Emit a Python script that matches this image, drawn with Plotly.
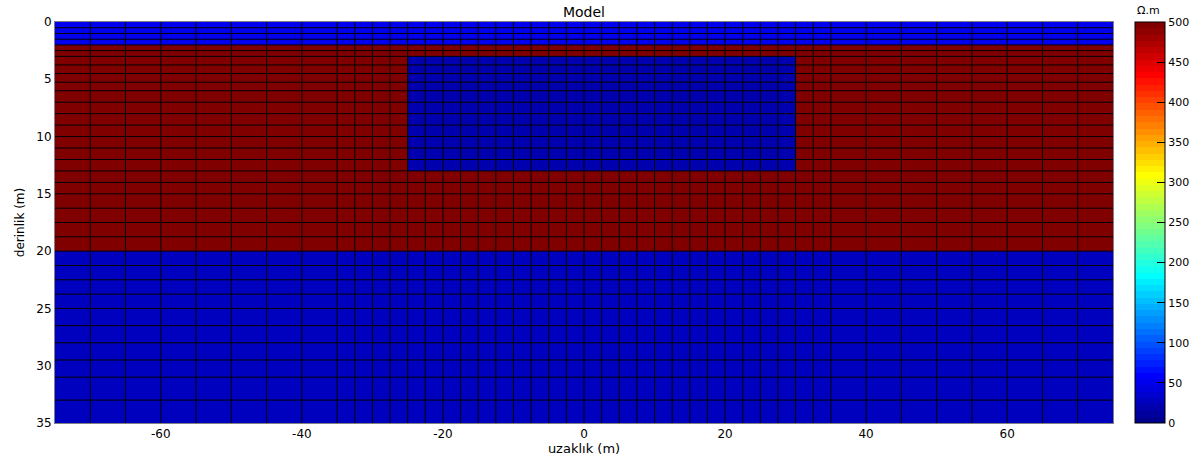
import numpy as np
import plotly.graph_objects as go

# Mesh cell edges (m)
x_edges = [-75, -70, -65, -60, -55, -50, -45, -40, -35,
           -32.5, -30, -27.5, -25, -22.5, -20, -17.5, -15, -12.5, -10, -7.5, -5, -2.5,
           0, 2.5, 5, 7.5, 10, 12.5, 15, 17.5, 20, 22.5, 25, 27.5, 30, 32.5,
           35, 40, 45, 50, 55, 60, 65, 70, 75]
y_edges = [0, 0.5, 1, 1.5, 2, 2.5, 3, 3.75, 4.5, 5.25, 6, 7, 8, 9, 10, 11, 12, 13,
           14, 15, 16.25, 17.5, 18.75, 20, 21.25, 22.5, 23.75, 25, 26.5, 28, 29.5, 31, 33, 35]

# Layered model (resistivity in ohm.m)
layer_bottoms = [2, 20, 35]
layer_rho = [50, 500, 28]
block_x = [-25, 30]
block_depth = [3, 13]
block_rho = 20

# Ticks
cb_ticks = [0, 50, 100, 150, 200, 250, 300, 350, 400, 450, 500]
x_ticks = [-60, -40, -20, 0, 20, 40, 60]
x_ticklabels = ["-60", "-40", "-20", "0", "20", "40", "60"]
y_ticks = [0, 5, 10, 15, 20, 25, 30, 35]

xc = [(a + b) / 2 for a, b in zip(x_edges[:-1], x_edges[1:])]
yc = [(a + b) / 2 for a, b in zip(y_edges[:-1], y_edges[1:])]
z = []
for yv in yc:
    li = next(i for i, b in enumerate(layer_bottoms) if yv < b)
    row = []
    for xv in xc:
        if block_x[0] < xv < block_x[1] and block_depth[0] < yv < block_depth[1]:
            row.append(block_rho)
        else:
            row.append(layer_rho[li])
    z.append(row)


def matlab_jet(m=64):
    n = int(np.ceil(m / 4))
    u = np.concatenate([np.arange(1, n + 1) / n, np.ones(n - 1), np.arange(n, 0, -1) / n])
    g = int(np.ceil(n / 2)) - (1 if m % 4 == 1 else 0) + np.arange(1, len(u) + 1)
    r = g + n
    b = g - n
    g = g[g <= m]
    r = r[r <= m]
    b = b[b >= 1]
    J = np.zeros((m, 3))
    J[r - 1, 0] = u[:len(r)]
    J[g - 1, 1] = u[:len(g)]
    J[b - 1, 2] = u[len(u) - len(b):]
    return J


J = matlab_jet(64)
colorscale = []
for i, c in enumerate(J):
    col = "rgb(%d,%d,%d)" % tuple(int(round(v * 255)) for v in c)
    colorscale.append([i / 64, col])
    colorscale.append([(i + 1) / 64, col])

font = "DejaVu Sans, sans-serif"

fig = go.Figure(go.Heatmap(
    x=x_edges, y=y_edges, z=z,
    zmin=0, zmax=500, colorscale=colorscale, hoverinfo="skip",
    colorbar=dict(
        tickvals=cb_ticks, ticks="inside", ticklen=8, tickcolor="#000",
        outlinecolor="#000", outlinewidth=1,
        thickness=30, thicknessmode="pixels",
        len=1, lenmode="fraction", y=0.5, yanchor="middle", ypad=0,
        x=1135 / 1204, xref="container", xanchor="left", xpad=0,
        tickfont=dict(size=11, family=font, color="#000"),
    ),
))

# mesh lines drawn at the cell edges
gx, gy = [], []
for xe in x_edges[1:-1]:
    gx += [xe, xe, None]
    gy += [y_edges[0], y_edges[-1], None]
for ye in y_edges[1:-1]:
    gx += [x_edges[0], x_edges[-1], None]
    gy += [ye, ye, None]
fig.add_trace(go.Scatter(x=gx, y=gy, mode="lines", line=dict(color="#000", width=1),
                         hoverinfo="skip", showlegend=False))

fig.add_annotation(text="Ω.m", xref="paper", yref="paper", x=(1135 - 55) / 1058, y=1,
                   xanchor="left", yanchor="bottom", yshift=3, showarrow=False,
                   font=dict(size=11, family=font, color="#000"))

fig.update_layout(
    width=1204, height=456,
    margin=dict(l=55, r=91, t=22, b=33),
    paper_bgcolor="white", plot_bgcolor="white",
    title=dict(text="Model", x=(55 + 1113) / 2 / 1204, xanchor="center", y=1 - 12 / 456,
               yanchor="middle", font=dict(size=14, family=font, color="#000")),
    font=dict(family=font, size=12, color="#000"),
    showlegend=False,
)
fig.update_xaxes(range=[-75, 75], tickvals=x_ticks, ticktext=x_ticklabels,
                 showgrid=False, zeroline=False,
                 showline=True, linecolor="#808080", linewidth=1, mirror=True, ticks="",
                 automargin=False,
                 title=dict(text="uzaklık (m)", standoff=1, font=dict(size=13, family=font)),
                 tickfont=dict(size=12, family=font))
fig.update_yaxes(range=[35, 0], tickvals=y_ticks, showgrid=False, zeroline=False,
                 showline=True, linecolor="#808080", linewidth=1, mirror=True, ticks="",
                 automargin=False,
                 title=dict(text="derinlik (m)", standoff=9, font=dict(size=12, family=font)),
                 tickfont=dict(size=12, family=font))

fig.write_html("out.html")
